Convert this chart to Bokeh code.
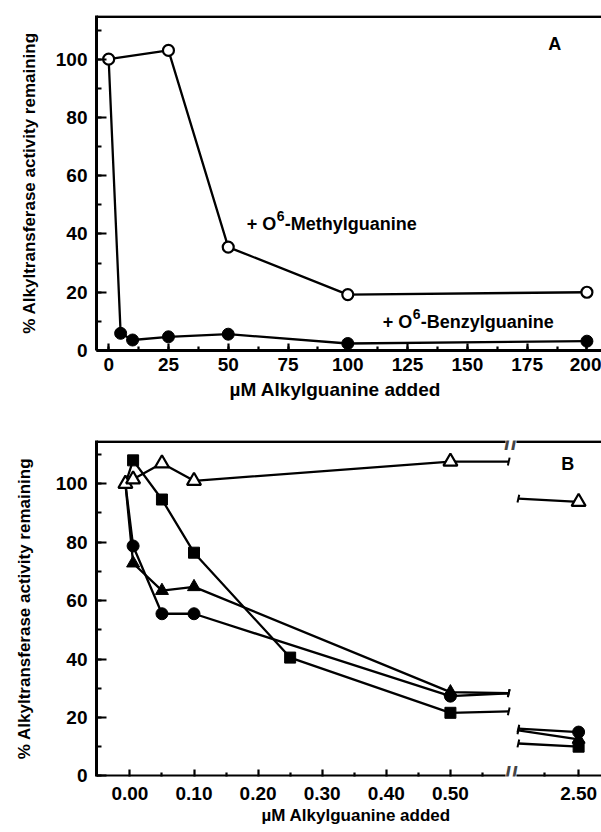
import numpy as np
from bokeh.plotting import figure
from bokeh.layouts import column
from bokeh.models import Range1d, SingleIntervalTicker, FixedTicker, Label, Title
from bokeh.core.properties import value
from bokeh.embed import file_html
from bokeh.resources import INLINE

FONT = "Liberation Sans"

# ---------------- Panel A data ----------------
a_conc_methyl = [0, 25, 50, 100, 200]
a_act_methyl = [100, 103, 35.5, 19.2, 20.0]
a_conc_benzyl = [0, 5, 10, 25, 50, 100, 200]
a_act_benzyl = [100, 5.9, 3.6, 4.7, 5.6, 2.4, 3.2]

# ---------------- Panel B data ----------------
b_ctrl_conc = -0.007
b_ctrl_act = 100
b_tri_open_conc = [0.005, 0.05, 0.1, 0.5, 2.5]
b_tri_open_act = [101.5, 107, 101, 107.6, 93.8]
b_square_conc = [0.005, 0.05, 0.1, 0.25, 0.5, 2.5]
b_square_act = [108, 94.6, 76.4, 40.5, 21.6, 10.0]
b_circle_conc = [0.005, 0.05, 0.1, 0.5, 2.5]
b_circle_act = [78.7, 55.5, 55.5, 27.3, 15.0]
b_tri_fill_conc = [0.005, 0.05, 0.1, 0.5, 2.5]
b_tri_fill_act = [72.8, 63.4, 64.7, 28.7, 12.5]
# activity where each line meets the axis break: left-side end / right-side start
# order: open triangle, square, circle, filled triangle
b_break_left_act = [107.6, 22.1, 28.3, 28.3]
b_break_right_act = [94.9, 11.1, 16.2, 15.6]

b_tick_conc = [0, 0.1, 0.2, 0.3, 0.4, 0.5, 2.5]
b_tick_labels = ["0.00", "0.10", "0.20", "0.30", "0.40", "0.50", "2.50"]
b_minor_conc = [0.05, 0.15, 0.25, 0.35, 0.45, 0.55, 2.25]

X_TITLE_A = "µM  Alkylguanine added"
X_TITLE_B = "µM Alkylguanine added"
Y_TITLE = "% Alkyltransferase activity remaining"

# ---------------- broken axis mapping (panel B) ----------------
BREAK_AT = 0.6
R_ANCHOR = 0.700
R_SCALE = 0.216
BL, BR = 0.591, 0.606          # line stub ends at the break
GAP_L, GAP_R = 0.586, 0.603    # gap in the axis lines
BRK = 0.5945                   # position of the // marks


def disp(v):
    v = np.asarray(v, dtype=float)
    return np.where(v > BREAK_AT, R_ANCHOR + (v - 2.5) * R_SCALE, v)


def style(p):
    p.outline_line_color = None
    p.xgrid.visible = False
    p.ygrid.visible = False
    for ax in (p.xaxis[0], p.yaxis[0]):
        ax.axis_line_width = 3
        ax.axis_line_color = "black"
        ax.major_tick_out = 0
        ax.minor_tick_out = 0
        ax.major_tick_line_width = 2.2
        ax.minor_tick_line_width = 2.2
        ax.major_label_text_font = FONT
        ax.major_label_text_font_style = "bold"
        ax.major_label_text_font_size = "19px"
        ax.major_label_text_color = "black"
        ax.axis_label_text_font = FONT
        ax.axis_label_text_font_style = "bold"
        ax.axis_label_text_font_size = "17px"
        ax.axis_label_text_color = "black"
    p.xaxis.major_tick_in = 7
    p.xaxis.minor_tick_in = 4
    p.yaxis.major_tick_in = 10
    p.yaxis.minor_tick_in = 5
    p.yaxis.major_label_standoff = 9


def x_title(p, text, size, offset, standoff):
    p.add_layout(Title(text=text, align="left", offset=offset, standoff=standoff,
                       text_font=FONT, text_font_size=size, text_font_style="bold",
                       text_color="black"), "below")


LW = 2.3
ann_font = value(FONT)

# ================= Panel A =================
XA0, XA1 = -5.09, 206.1
YA0, YA1 = 0.0, 115.0
pa = figure(width=601, height=415, x_range=Range1d(XA0, XA1), y_range=Range1d(YA0, YA1),
            output_backend="svg", toolbar_location=None,
            min_border_left=91, min_border_right=0, min_border_top=15, min_border_bottom=65)
style(pa)
pa.xaxis.ticker = SingleIntervalTicker(interval=25, num_minor_ticks=2)
pa.yaxis.ticker = SingleIntervalTicker(interval=20, num_minor_ticks=2)
pa.yaxis.axis_label = Y_TITLE
pa.xaxis.major_label_standoff = 7
pa.yaxis.axis_label_standoff = 14
x_title(pa, X_TITLE_A, "19px", 133, 7)

# top frame line
pa.line([XA0, XA1], [YA1 - 0.4, YA1 - 0.4], line_color="black", line_width=2.6)

pa.line(a_conc_benzyl, a_act_benzyl, line_color="black", line_width=LW)
pa.line(a_conc_methyl, a_act_methyl, line_color="black", line_width=LW)
pa.scatter(a_conc_benzyl[1:], a_act_benzyl[1:], marker="circle", size=12,
           fill_color="black", line_color="black")
pa.scatter(a_conc_methyl, a_act_methyl, marker="circle", size=11,
           fill_color="white", line_color="black", line_width=2.2)

# annotations
for xx, yy, name in ((57.7, 43.5, "-Methylguanine"), (114.6, 9.9, "-Benzylguanine")):
    pa.text(x=[xx], y=[yy], text=["+ O"], text_font=ann_font, text_font_style="bold",
            text_font_size="18px", text_align="left", text_baseline="middle")
    pa.text(x=[xx], y=[yy], text=["6"], x_offset=30, y_offset=-8, text_font=ann_font,
            text_font_style="bold", text_font_size="14px", text_align="left",
            text_baseline="middle")
    pa.text(x=[xx], y=[yy], text=[name], x_offset=38, text_font=ann_font,
            text_font_style="bold", text_font_size="18px", text_align="left",
            text_baseline="middle")

pa.text(x=[186.5], y=[105.2], text=["A"], text_font=ann_font, text_font_style="bold",
        text_font_size="18px", text_align="center", text_baseline="middle")

# ================= Panel B =================
XB0, XB1 = -0.0521, 0.7357
YB0, YB1 = -0.2, 114.8
pb = figure(width=601, height=417, x_range=Range1d(XB0, XB1), y_range=Range1d(YB0, YB1),
            output_backend="svg", toolbar_location=None,
            min_border_left=96, min_border_right=0, min_border_top=25, min_border_bottom=56)
style(pb)
tick_disp = [float(t) for t in disp(b_tick_conc)]
minor_disp = [float(t) for t in disp(b_minor_conc)]
pb.xaxis.ticker = FixedTicker(ticks=tick_disp, minor_ticks=minor_disp)
pb.xaxis.major_label_overrides = {t: lab for t, lab in zip(tick_disp, b_tick_labels)}
pb.yaxis.ticker = SingleIntervalTicker(interval=20, num_minor_ticks=2)
pb.xaxis.axis_line_color = None
pb.yaxis.axis_label = Y_TITLE
pb.xaxis.major_label_standoff = 10
pb.yaxis.axis_label_standoff = 19
x_title(pb, X_TITLE_B, "17px", 165, 3)

# broken bottom axis and top frame line
for yy in (0.0, YB1 - 0.4):
    pb.line([XB0, GAP_L], [yy, yy], line_color="black", line_width=2.8)
    pb.line([GAP_R, XB1], [yy, yy], line_color="black", line_width=2.8)
for yy in (0.0, YB1 - 0.4):
    pb.add_layout(Label(x=BRK, y=yy, text="//", text_font=FONT, text_font_style="bold",
                        text_font_size="24px", text_align="center", text_baseline="middle"))

series = [
    (b_tri_open_conc, b_tri_open_act),
    (b_square_conc, b_square_act),
    (b_circle_conc, b_circle_act),
    (b_tri_fill_conc, b_tri_fill_act),
]
for (conc, act), lend, rstart in zip(series, b_break_left_act, b_break_right_act):
    conc = np.asarray(conc, float)
    act = np.asarray(act, float)
    left = conc <= BREAK_AT
    lx = np.concatenate([[b_ctrl_conc], disp(conc[left]), [BL]])
    ly = np.concatenate([[b_ctrl_act], act[left], [lend]])
    pb.line(lx, ly, line_color="black", line_width=LW)
    rx = np.concatenate([[BR], disp(conc[~left])])
    ry = np.concatenate([[rstart], act[~left]])
    pb.line(rx, ry, line_color="black", line_width=LW)
    pb.scatter([BL, BR], [lend, rstart], marker="dash", angle=1.35, size=8,
               line_color="black", line_width=2)

pb.scatter(disp(b_circle_conc), b_circle_act, marker="circle", size=12,
           fill_color="black", line_color="black")
pb.scatter(disp(b_tri_fill_conc), b_tri_fill_act, marker="triangle", size=13,
           fill_color="black", line_color="black")
pb.scatter(disp(b_square_conc), b_square_act, marker="square", size=11,
           fill_color="black", line_color="black")
pb.scatter(np.concatenate([[b_ctrl_conc], disp(b_tri_open_conc)]),
           [b_ctrl_act] + b_tri_open_act, marker="triangle", size=14,
           fill_color="white", line_color="black", line_width=2.2)

pb.text(x=[0.683], y=[106.8], text=["B"], text_font=ann_font, text_font_style="bold",
        text_font_size="18px", text_align="center", text_baseline="middle")

layout = column(pa, pb, spacing=0)
open("out.html", "w").write(file_html(layout, INLINE))
